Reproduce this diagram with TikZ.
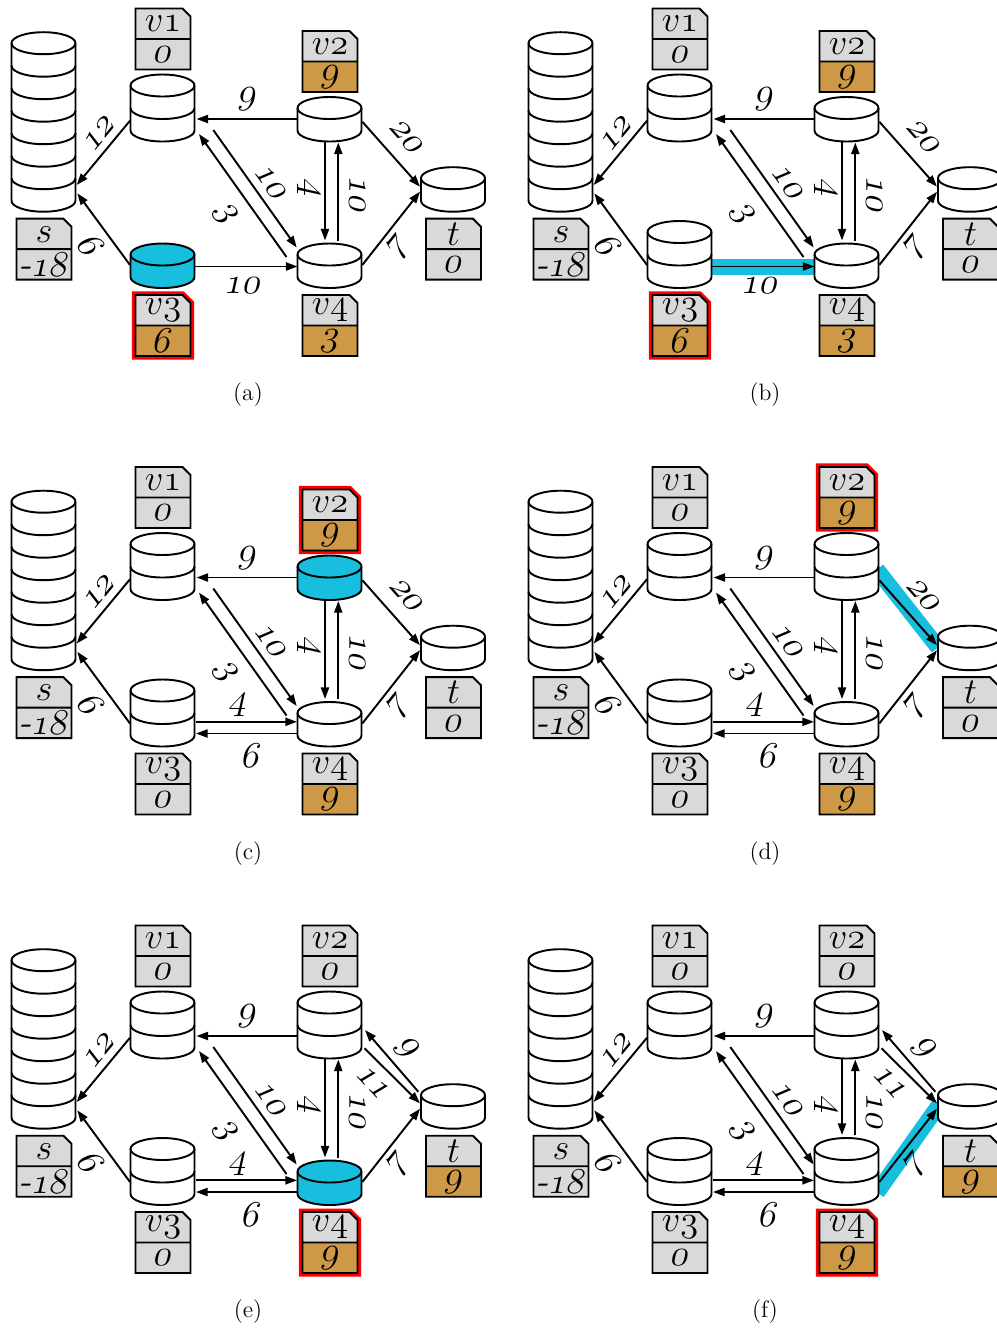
\documentclass[tikz,border=0pt]{standalone}
\usepackage{fontspec}
\usetikzlibrary{arrows.meta,backgrounds}
\definecolor{boxgray}{RGB}{217,217,217}
\definecolor{gain}{RGB}{206,153,71}
\definecolor{hl}{RGB}{23,190,222}
\definecolor{alert}{RGB}{255,0,0}
\newcommand{\osn}[1]{$\mathnormal{#1}$}

% a stack of #4 discs named #1, bottom centre at (#2,#3), filled with #5
\newcommand{\drum}[5]{%
  \path[drumline,fill=#5] (#2-32,#3-#4*22.5) -- (#2-32,#3) arc[disc,start angle=180,end angle=360]
    -- (#2+32,#3-#4*22.5) arc[disc,start angle=0,end angle=180] -- cycle;
  \draw[drumline] (#2-32,#3-#4*22.5) arc[disc,start angle=180,end angle=360];
  \ifnum#4>1
    \pgfmathtruncatemacro\lastdisc{#4-1}%
    \foreach \k in {1,...,\lastdisc} {\draw[drumline] (#2-32,#3-\k*22.5) arc[disc,start angle=180,end angle=360];}
  \fi
  \pgfmathsetmacro\drumh{(#4*22.5+22)*0.02}%
  \node[drumbox,minimum height=\drumh cm] (#1) at (#2,#3+11) {};
}
% the note with name and value, top edge at #1
\newcommand{\notebody}[6]{%
  \path[draw=#6,line width=4pt] (-27,#1) -- (20,#1) -- (28,#1+8) -- (28,#1+61) -- (-27,#1+61) -- cycle;
  \fill[boxgray] (-27,#1) -- (20,#1) -- (28,#1+8) -- (28,#1+30.5) -- (-27,#1+30.5) -- cycle;
  \fill[#5] (-27,#1+30.5) rectangle (28,#1+61);
  \draw[noteline] (-27,#1) -- (20,#1) -- (28,#1+8) -- (28,#1+61) -- (-27,#1+61) -- cycle (-27,#1+30.5) -- (28,#1+30.5);
  \node[notetext] (#2name) at (0.5,#1+15.5) {#3};
  \node[notenum] (#2val) at (0.5,#1+46) {#4};
}
\newcommand{\noteup}[5]{\begin{scope}[shift={(#1.north)}]\notebody{-66}{#1}{#2}{#3}{#4}{#5}\end{scope}}
\newcommand{\notedown}[5]{\begin{scope}[shift={(#1.south)}]\notebody{7}{#1}{#2}{#3}{#4}{#5}\end{scope}}

% what every panel shares
\newcommand{\basepanel}[1]{%
  \drum{s}{43.5}{200.7}{7}{white}
  \drum{v1}{162.5}{130.5}{2}{white}
  \drum{t}{453}{200.7}{1}{white}
  \draw[arr] ([shift={(-32,-22.5)}]v2.south) -- ([shift={(34,-22.5)}]v1.south);
  \draw[arr] ([shift={(-32.5,-20.8)}]v1.south) -- ([shift={(33.2,-26.7)}]s.south);
  \draw[arr] ([shift={(-32.5,-23)}]v3.south) -- ([shift={(33.8,-18.4)}]s.south);
  \draw[arr] ([shift={(50.8,-11.5)}]v1.south) -- ([shift={(-32.8,-40.5)}]v4.south);
  \draw[arr] ([shift={(-43,-31)}]v4.south) -- ([shift={(36.5,-7.5)}]v1.south);
  \draw[arr] ([shift={(-4.5,0)}]v2.south) -- ([shift={(-4.5,-3)}]v4.north);
  \draw[arr] ([shift={(8.8,-3)}]v4.north) -- ([shift={(8.8,1)}]v2.south);
  \draw[arr] ([shift={(32.8,-23)}]v4.south) -- ([shift={(-33,-20)}]t.south);
  \node[elab] (w21) at (247.3,99.3) {\osn{9}};
  \node[rotate=50.3,elab] (w1s) at (100,133.3) {\osn{12}};
  \node[rotate=-53.7,elab] (w3s) at (90.7,246) {\osn{6}};
  \node[rotate=-54.4,elab] (w14) at (270.7,183.3) {\osn{10}};
  \node[rotate=-54.6,elab] (w41) at (225,214) {\osn{3}};
  \node[rotate=-90,elab] (w24) at (308.3,188.3) {\osn{4}};
  \node[rotate=-90,elab] (w42) at (357.3,195) {\osn{10}};
  \node[rotate=51.8,elab] (w4t) at (398.3,248.3) {\osn{7}};
  \notedown{s}{$s$}{-\osn{18}}{boxgray}{none}
  \noteup{v1}{$v$\osn{1}}{\osn{0}}{boxgray}{none}
  \node[subcap] (cap#1) at (248,395) {(#1)};
}
\newcommand{\lowone}{%
  \draw[arr] ([shift={(32,-21.5)}]v3.south) -- ([shift={(-32,-21.5)}]v4.south);
  \node[elab] (w34) at (243.3,285.7) {\osn{10}};
}
\newcommand{\lowtwo}{%
  \draw[arr] ([shift={(33,-24.7)}]v3.south) -- ([shift={(-32.5,-24.7)}]v4.south);
  \draw[arr] ([shift={(-32,-13)}]v4.south) -- ([shift={(33.5,-13)}]v3.south);
  \node[elab] (w34) at (238.3,246.7) {\osn{4}};
  \node[elab] (w43) at (251.7,297.7) {\osn{6}};
}
\newcommand{\sideone}{%
  \draw[arr] ([shift={(32.8,-19.8)}]v2.south) -- ([shift={(-33,-25)}]t.south);
  \node[rotate=-48.4,elab] (w2t) at (406.7,137.3) {\osn{20}};
}
\newcommand{\sidetwo}{%
  \draw[arr] ([shift={(35,-10.2)}]v2.south) -- ([shift={(-33,-25.4)}]t.south);
  \draw[arr] ([shift={(-34.7,-37)}]t.south) -- ([shift={(35.5,-28.5)}]v2.south);
  \node[rotate=-46.8,elab] (w2t) at (373.3,166.3) {\osn{11}};
  \node[rotate=-50,elab] (wt2) at (406.7,131.3) {\osn{9}};
}

\begin{document}
\begin{tikzpicture}[x=0.02cm,y=-0.02cm,
  drumline/.style={draw=black,line width=1.1pt},
  disc/.style={x radius=0.64cm,y radius=0.22cm},
  drumbox/.style={inner sep=0pt,outer sep=0pt,minimum width=1.28cm,anchor=south},
  arr/.style={-{Triangle[length=6.6pt,width=4.6pt]},line width=1.1pt},
  band/.style={draw=hl,line width=0.32cm,shorten <=-0.1cm,shorten >=-0.1cm},
  noteline/.style={draw=black,line width=1.1pt},
  notetext/.style={inner sep=0pt,font=\fontsize{22}{24}\selectfont\itshape},
  notenum/.style={notetext,xslant=0.22,transform shape},
  elab/.style={inner sep=0pt,font=\fontsize{22.5}{24}\selectfont\itshape,xslant=0.22,transform shape},
  subcap/.style={font=\fontsize{13.5}{16}\selectfont}]
\useasboundingbox (0,0) rectangle (997,1330);
\clip (0,0) rectangle (997,1330);
% (a)
\begin{scope}[shift={(0,0)}]
\drum{v2}{329.5}{130.5}{1}{white}
\drum{v3}{162.5}{277}{1}{hl}
\drum{v4}{329.5}{277}{1}{white}
\basepanel{a}
\lowone \sideone
\noteup{v2}{$v$\osn{2}}{\osn{9}}{gain}{none}
\notedown{v3}{$v$\osn{3}}{\osn{6}}{gain}{alert}
\notedown{v4}{$v$\osn{4}}{\osn{3}}{gain}{none}
\notedown{t}{$t$}{\osn{0}}{boxgray}{none}
\end{scope}
% (b)
\begin{scope}[shift={(517,0)}]
\drum{v2}{329.5}{130.5}{1}{white}
\drum{v3}{162.5}{277}{2}{white}
\drum{v4}{329.5}{277}{1}{white}
\basepanel{b}
\begin{pgfonlayer}{background}
\draw[band] ([shift={(32,-21.5)}]v3.south) -- ([shift={(-32,-21.5)}]v4.south);
\end{pgfonlayer}
\lowone \sideone
\noteup{v2}{$v$\osn{2}}{\osn{9}}{gain}{none}
\notedown{v3}{$v$\osn{3}}{\osn{6}}{gain}{alert}
\notedown{v4}{$v$\osn{4}}{\osn{3}}{gain}{none}
\notedown{t}{$t$}{\osn{0}}{boxgray}{none}
\end{scope}
% (c)
\begin{scope}[shift={(0,458.5)}]
\drum{v2}{329.5}{130.5}{1}{hl}
\drum{v3}{162.5}{277}{2}{white}
\drum{v4}{329.5}{277}{1}{white}
\basepanel{c}
\lowtwo \sideone
\noteup{v2}{$v$\osn{2}}{\osn{9}}{gain}{alert}
\notedown{v3}{$v$\osn{3}}{\osn{0}}{boxgray}{none}
\notedown{v4}{$v$\osn{4}}{\osn{9}}{gain}{none}
\notedown{t}{$t$}{\osn{0}}{boxgray}{none}
\end{scope}
% (d)
\begin{scope}[shift={(517,458.5)}]
\drum{v2}{329.5}{130.5}{2}{white}
\drum{v3}{162.5}{277}{2}{white}
\drum{v4}{329.5}{277}{1}{white}
\basepanel{d}
\begin{pgfonlayer}{background}
\draw[band] ([shift={(33.5,-26.5)}]v2.south) -- ([shift={(-35,-26.7)}]t.south);
\end{pgfonlayer}
\lowtwo \sideone
\noteup{v2}{$v$\osn{2}}{\osn{9}}{gain}{alert}
\notedown{v3}{$v$\osn{3}}{\osn{0}}{boxgray}{none}
\notedown{v4}{$v$\osn{4}}{\osn{9}}{gain}{none}
\notedown{t}{$t$}{\osn{0}}{boxgray}{none}
\end{scope}
% (e)
\begin{scope}[shift={(0,917)}]
\drum{v2}{329.5}{130.5}{2}{white}
\drum{v3}{162.5}{277}{2}{white}
\drum{v4}{329.5}{277}{1}{hl}
\basepanel{e}
\lowtwo \sidetwo
\noteup{v2}{$v$\osn{2}}{\osn{0}}{boxgray}{none}
\notedown{v3}{$v$\osn{3}}{\osn{0}}{boxgray}{none}
\notedown{v4}{$v$\osn{4}}{\osn{9}}{gain}{alert}
\notedown{t}{$t$}{\osn{9}}{gain}{none}
\end{scope}
% (f)
\begin{scope}[shift={(517,917)}]
\drum{v2}{329.5}{130.5}{2}{white}
\drum{v3}{162.5}{277}{2}{white}
\drum{v4}{329.5}{277}{2}{white}
\basepanel{f}
\begin{pgfonlayer}{background}
\draw[band] ([shift={(33.5,-16.7)}]v4.south) -- ([shift={(-33.3,-20.4)}]t.south);
\end{pgfonlayer}
\lowtwo \sidetwo
\noteup{v2}{$v$\osn{2}}{\osn{0}}{boxgray}{none}
\notedown{v3}{$v$\osn{3}}{\osn{0}}{boxgray}{none}
\notedown{v4}{$v$\osn{4}}{\osn{9}}{gain}{alert}
\notedown{t}{$t$}{\osn{9}}{gain}{none}
\end{scope}
\end{tikzpicture}
\end{document}
